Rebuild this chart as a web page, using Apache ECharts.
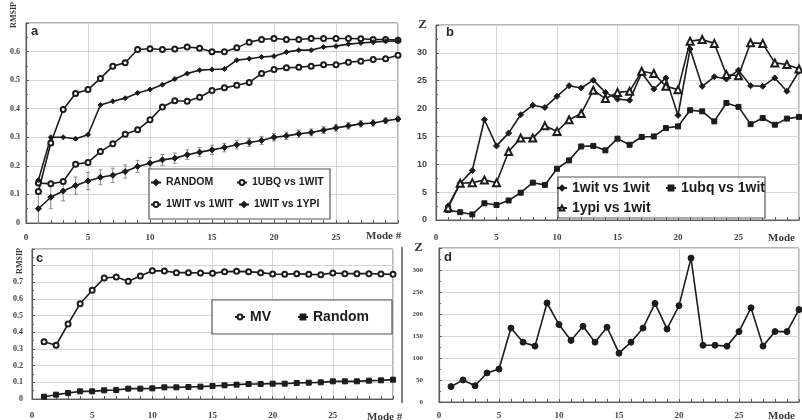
<!DOCTYPE html>
<html>
<head>
<meta charset="utf-8">
<script src="https://cdn.jsdelivr.net/npm/echarts@6.0.0/dist/echarts.min.js"></script>
<style>
  html, body { margin: 0; padding: 0; background: #fff; }
  #chart { width: 802px; height: 420px; }
</style>
</head>
<body>
<div id="chart"></div>
<script>
  "use strict";

  // mode numbers, shared by the four panels
  const modes = [1, 2, 3, 4, 5, 6, 7, 8, 9, 10, 11, 12, 13, 14, 15,
                 16, 17, 18, 19, 20, 21, 22, 23, 24, 25, 26, 27, 28, 29, 30];
  const xTickLabels = [0, 5, 10, 15, 20, 25];

  // panel a - RMSIP
  const aRandom = [0.05, 0.09, 0.112, 0.131, 0.147, 0.16, 0.167, 0.18, 0.198, 0.209,
                   0.221, 0.227, 0.239, 0.248, 0.256, 0.264, 0.274, 0.282, 0.289, 0.30,
                   0.305, 0.312, 0.317, 0.325, 0.333, 0.34, 0.347, 0.35, 0.358, 0.364];
  const aRandomErr = [0.05, 0.04, 0.035, 0.03, 0.03, 0.026, 0.025, 0.023, 0.021, 0.02,
                      0.019, 0.018, 0.017, 0.016, 0.016, 0.015, 0.015, 0.014, 0.014, 0.013,
                      0.013, 0.013, 0.012, 0.012, 0.012, 0.011, 0.011, 0.011, 0.01, 0.01];
  const aUbqWit = [0.14, 0.137, 0.145, 0.206, 0.212, 0.25, 0.277, 0.311, 0.326, 0.361,
                   0.406, 0.428, 0.426, 0.44, 0.464, 0.473, 0.482, 0.492, 0.523, 0.537,
                   0.543, 0.545, 0.549, 0.554, 0.554, 0.563, 0.566, 0.572, 0.575, 0.587];
  const aWitWit = [0.11, 0.28, 0.397, 0.453, 0.467, 0.506, 0.549, 0.561, 0.607, 0.61,
                   0.607, 0.609, 0.616, 0.612, 0.599, 0.599, 0.613, 0.633, 0.642, 0.646,
                   0.642, 0.642, 0.646, 0.646, 0.646, 0.646, 0.645, 0.642, 0.642, 0.64];
  const aWitYpi = [0.15, 0.30, 0.30, 0.295, 0.309, 0.413, 0.426, 0.437, 0.455, 0.467,
                   0.484, 0.504, 0.523, 0.535, 0.537, 0.539, 0.57, 0.575, 0.581, 0.584,
                   0.598, 0.605, 0.605, 0.616, 0.619, 0.626, 0.63, 0.633, 0.636, 0.637];
  const aYTicks = [0, 0.1, 0.2, 0.3, 0.4, 0.5, 0.6];

  // panel b - Z
  const bWitWit = [2.5, 6.6, 8.9, 18.0, 13.3, 15.6, 18.9, 20.6, 20.2, 22.2,
                   24.1, 23.7, 25.1, 22.9, 21.7, 21.5, 26.4, 23.5, 25.5, 18.8,
                   30.7, 24.0, 25.7, 25.3, 26.9, 24.1, 24.0, 25.5, 23.1, 26.7];
  const bUbqWit = [1.8, 1.4, 1.0, 3.0, 2.7, 3.5, 4.9, 6.7, 6.3, 9.2,
                   10.7, 13.2, 13.3, 12.5, 14.6, 13.5, 14.9, 15.0, 16.5, 16.8,
                   19.7, 19.5, 17.7, 21.0, 20.3, 17.2, 18.3, 17.1, 18.2, 18.5];
  const bYpiWit = [2.2, 6.6, 6.7, 7.2, 6.7, 12.3, 14.7, 14.7, 16.9, 15.9,
                   18.0, 19.1, 23.3, 21.8, 22.9, 23.1, 26.7, 26.3, 24.0, 23.4,
                   32.1, 32.4, 31.7, 26.1, 25.9, 31.8, 31.7, 28.2, 27.9, 27.1];
  const bYTicks = [0, 5, 10, 15, 20, 25, 30];

  // panel c - RMSIP
  const cMV = [0.344, 0.322, 0.45, 0.572, 0.652, 0.726, 0.732, 0.706, 0.738, 0.77,
               0.768, 0.758, 0.758, 0.756, 0.754, 0.764, 0.766, 0.764, 0.758, 0.75,
               0.748, 0.752, 0.748, 0.746, 0.756, 0.752, 0.752, 0.752, 0.75, 0.748];
  const cRandom = [0.014, 0.026, 0.036, 0.046, 0.046, 0.052, 0.054, 0.062, 0.062, 0.064,
                   0.07, 0.07, 0.072, 0.074, 0.078, 0.082, 0.086, 0.09, 0.09, 0.092,
                   0.092, 0.096, 0.098, 0.1, 0.106, 0.106, 0.106, 0.11, 0.112, 0.116];
  const cYTicks = [0, 0.1, 0.2, 0.3, 0.4, 0.5, 0.6, 0.7];

  // panel d - Z
  const dZ = [35, 50, 37, 66, 75, 168, 136, 127, 225, 176,
              140, 172, 136, 170, 111, 136, 168, 224, 166, 219,
              327, 129, 129, 127, 160, 214, 127, 160, 160, 210];
  const dYTicks = [0, 50, 100, 150, 200, 250, 300];

  const ink = '#1c1c1c';
  const axisGray = '#5a5a5a';
  const gridGray = '#d6d6d6';

  function pair(ys) {
    return modes.map((m, i) => [m, ys[i]]);
  }

  function near(list, v) {
    return list.some(t => Math.abs(t - v) < 1e-6);
  }

  function xAxisFor(grid, margin) {
    return {
      type: 'value', gridIndex: grid, min: 0, max: 30, interval: 5,
      axisLine: { show: true, onZero: false, lineStyle: { color: axisGray, width: 1.2 } },
      axisTick: { show: true, inside: true, length: 3, lineStyle: { color: axisGray } },
      minorTick: { show: true, splitNumber: 5, length: 3, lineStyle: { color: axisGray } },
      splitLine: { show: true, lineStyle: { color: gridGray, width: 1 } },
      axisLabel: {
        margin: margin, fontFamily: 'Liberation Serif', fontSize: 9, fontWeight: 'bold',
        color: '#444', formatter: v => near(xTickLabels, v) ? String(v) : ''
      }
    };
  }

  function yAxisFor(grid, max, step, ticks, opts) {
    return {
      type: 'value', gridIndex: grid, min: 0, max: max, interval: step,
      axisLine: { show: true, lineStyle: { color: axisGray, width: 1.2 } },
      axisTick: { show: true, inside: true, length: 3, lineStyle: { color: axisGray } },
      minorTick: { show: true, splitNumber: 2, length: 2, lineStyle: { color: axisGray } },
      splitLine: { show: true, lineStyle: { color: gridGray, width: 1 } },
      axisLabel: {
        margin: opts.margin, fontFamily: opts.font, fontSize: opts.size, fontWeight: 'bold',
        color: '#444',
        formatter: v => {
          if (near(ticks, v)) return String(Math.round(v * 10) / 10);
          return opts.topLabel && Math.abs(v - max) < 1e-6 ? '{z|' + opts.topLabel + '}' : '';
        },
        rich: { z: { fontFamily: 'Liberation Serif', fontSize: 13, fontWeight: 'bold', color: '#3a3a3a' } }
      }
    };
  }

  function lineSeries(name, grid, ys, symbol, size) {
    return {
      name: name, type: 'line', xAxisIndex: grid, yAxisIndex: grid,
      data: pair(ys), symbol: symbol, symbolSize: size, z: 3,
      lineStyle: { color: ink, width: 1.6 },
      itemStyle: { color: ink, borderColor: ink, borderWidth: 1 },
      emphasis: { disabled: true }
    };
  }

  // one legend per entry so every entry sits where the reference has it
  function legendItem(name, left, top, size) {
    return {
      data: [name], left: left, top: top, padding: 0, selectedMode: false, z: 10,
      itemWidth: 10, itemHeight: 6, itemGap: 0,
      textStyle: { fontFamily: 'Liberation Sans', fontWeight: 'bold', fontSize: size, color: ink }
    };
  }

  function label(text, x, y, size) {
    return {
      type: 'text', x: x, y: y, z: 6,
      style: { text: text, fill: '#2a2a2a', font: 'bold ' + size + 'px "Liberation Sans"' }
    };
  }

  function serifText(text, x, y, size, rotation) {
    return {
      type: 'text', x: x, y: y, rotation: rotation || 0, z: 6,
      style: {
        text: text, fill: '#3a3a3a', font: 'bold ' + size + 'px "Liberation Serif"',
        align: rotation ? 'center' : 'left', verticalAlign: 'middle'
      }
    };
  }

  function box(x, y, w, h) {
    return {
      type: 'rect', shape: { x: x, y: y, width: w, height: h }, z: 5,
      style: { fill: '#fff', stroke: '#555', lineWidth: 1.2 }
    };
  }

  const errorBars = {
    type: 'custom', xAxisIndex: 0, yAxisIndex: 0, silent: true, z: 2,
    data: modes.map((m, i) => [m, aRandom[i], aRandomErr[i]]),
    renderItem: function (params, api) {
      const x = api.value(0), y = api.value(1), e = api.value(2);
      const hi = api.coord([x, y + e]);
      const lo = api.coord([x, y - e]);
      const style = { stroke: '#8c8c8c', lineWidth: 1 };
      return {
        type: 'group',
        children: [
          { type: 'line', shape: { x1: hi[0], y1: hi[1], x2: lo[0], y2: lo[1] }, style: style },
          { type: 'line', shape: { x1: hi[0] - 2, y1: hi[1], x2: hi[0] + 2, y2: hi[1] }, style: style },
          { type: 'line', shape: { x1: lo[0] - 2, y1: lo[1], x2: lo[0] + 2, y2: lo[1] }, style: style }
        ]
      };
    }
  };

  const gridStyle = { show: true, borderColor: '#6a6a6a', borderWidth: 1 };

  const chart = echarts.init(document.getElementById('chart'));
  chart.setOption({
    animation: false,
    backgroundColor: '#fff',
    grid: [
      Object.assign({ left: 26, top: 23, right: 404, bottom: 197 }, gridStyle),
      Object.assign({ left: 436, top: 25, right: 2, bottom: 200 }, gridStyle),
      Object.assign({ left: 32, top: 249, right: 409, bottom: 19 }, gridStyle),
      Object.assign({ left: 439, top: 248, right: 3, bottom: 17 }, gridStyle)
    ],
    xAxis: [xAxisFor(0, 10), xAxisFor(1, 13), xAxisFor(2, 12), xAxisFor(3, 9)],
    yAxis: [
      yAxisFor(0, 0.7, 0.1, aYTicks, { margin: 6, font: 'Liberation Serif', size: 8 }),
      yAxisFor(1, 35, 5, bYTicks, { margin: 9, font: 'Liberation Sans', size: 9, topLabel: 'Z' }),
      yAxisFor(2, 0.9, 0.1, cYTicks, { margin: 9, font: 'Liberation Serif', size: 8 }),
      yAxisFor(3, 350, 50, dYTicks, { margin: 16, font: 'Liberation Serif', size: 7, topLabel: 'Z' })
    ],
    legend: [
      legendItem('RANDOM', 150, 177, 10.5),
      legendItem('1UBQ vs 1WIT', 236, 177, 10.5),
      legendItem('1WIT vs 1WIT', 150, 199, 10.5),
      legendItem('1WIT vs 1YPI', 238, 199, 10.5),
      legendItem('1wit vs 1wit', 556, 181, 14),
      legendItem('1ubq vs 1wit', 665, 181, 14),
      legendItem('1ypi vs 1wit', 556, 201, 14),
      legendItem('MV', 234, 310, 14),
      legendItem('Random', 297, 310, 14)
    ],
    series: [
      errorBars,
      lineSeries('RANDOM', 0, aRandom, 'diamond', 6),
      lineSeries('1UBQ vs 1WIT', 0, aUbqWit, 'emptyCircle', 5),
      lineSeries('1WIT vs 1WIT', 0, aWitWit, 'emptyCircle', 5),
      lineSeries('1WIT vs 1YPI', 0, aWitYpi, 'diamond', 5),
      lineSeries('1wit vs 1wit', 1, bWitWit, 'diamond', 6),
      lineSeries('1ubq vs 1wit', 1, bUbqWit, 'rect', 5),
      lineSeries('1ypi vs 1wit', 1, bYpiWit, 'emptyTriangle', 7),
      lineSeries('MV', 2, cMV, 'emptyCircle', 5),
      lineSeries('Random', 2, cRandom, 'rect', 5),
      lineSeries('dZ', 3, dZ, 'circle', 6)
    ],
    graphic: {
      elements: [
        box(149, 169, 181, 50),
        box(558, 177, 207, 41),
        box(212, 300, 180, 34),
        label('a', 31, 25, 13),
        label('b', 446, 26, 13),
        label('c', 36, 252, 13),
        label('d', 444, 251, 13),
        serifText('RMSIP', 14, 15, 8, Math.PI / 2),
        serifText('RMSIP', 20, 261, 8, Math.PI / 2),
        serifText('Mode #', 366, 236, 11),
        serifText('Mode #', 367, 417, 11),
        serifText('Mode', 768, 238, 11),
        serifText('Mode', 768, 416, 11),
        {
          type: 'line', shape: { x1: 402, y1: 247, x2: 402, y2: 403 },
          style: { stroke: '#555', lineWidth: 1.5 }
        }
      ]
    }
  });
</script>
</body>
</html>
